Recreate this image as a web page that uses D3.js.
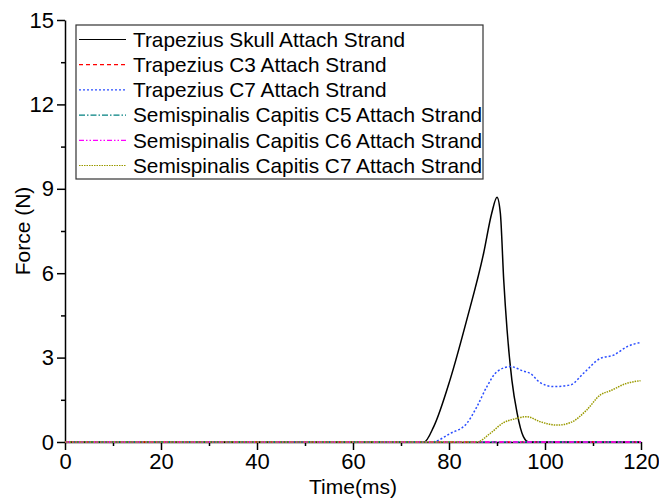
<!DOCTYPE html>
<html>
<head>
<meta charset="utf-8">
<script src="https://cdn.jsdelivr.net/npm/d3@7"></script>
<style>
    body { margin: 0; background: #fff; }
    svg { font-family: "Liberation Sans", Arial, sans-serif; }
    .axis path, .axis line { stroke: #000; stroke-width: 1.5; }
    .series { fill: none; }
</style>
</head>
<body>
<script>
// values, [time ms, force N]
const skullStrand = [[0, 0], [74.8, 0], [76.8, 0.54], [80.2, 2.2], [83.7, 4.34], [87.2, 6.7],
    [88.9, 8.13], [90, 8.7], [90.7, 8.13], [91.4, 5.76], [92.1, 3.98], [93.1, 2.2],
    [94.2, 1.02], [95.5, 0.19], [96.6, 0], [120, 0]];
const c3Strand = [[0, 0], [120, 0]];
const c7Strand = [[0, 0], [76.4, 0], [80.3, 0.31], [83.7, 0.66], [85.8, 1.25], [87.9, 1.97],
    [90, 2.5], [92.8, 2.68], [95.5, 2.52], [96.9, 2.44], [99, 2.11], [101.8, 1.97],
    [105.3, 2.03], [108, 2.44], [111.5, 2.97], [114.3, 3.09], [117.1, 3.39], [119.9, 3.54]];
const semiC5Strand = [[0, 0], [120, 0]];
const semiC6Strand = [[0, 0], [120, 0]];
const semiC7Strand = [[0, 0], [85.8, 0], [88.6, 0.31], [91.4, 0.69], [93.4, 0.81], [96.2, 0.9],
    [99, 0.72], [102.5, 0.6], [105.3, 0.69], [108.7, 1.14], [111.5, 1.67], [113.6, 1.82],
    [117.1, 2.09], [119.9, 2.18]];

const seriesNames = ["Trapezius Skull Attach Strand", "Trapezius C3 Attach Strand",
    "Trapezius C7 Attach Strand", "Semispinalis Capitis C5 Attach Strand",
    "Semispinalis Capitis C6 Attach Strand", "Semispinalis Capitis C7 Attach Strand"];
const seriesValues = [skullStrand, c3Strand, c7Strand, semiC5Strand, semiC6Strand, semiC7Strand];
const xTicks = [0, 20, 40, 60, 80, 100, 120];
const yTicks = [0, 3, 6, 9, 12, 15];

const colors = ["#000000", "#ff0000", "#2a4dff", "#008080", "#ff00ff", "#9a9a00"];
const dashes = [null, "4,3", "2,2", "6,2,1.5,2", "5,2,1.5,2,1.5,2", "1.5,1"];

const width = 659, height = 500;
const margin = { top: 20, right: 18, bottom: 58, left: 65 };

const x = d3.scaleLinear().domain([0, 120]).range([margin.left, width - margin.right]);
const y = d3.scaleLinear().domain([0, 15]).range([height - margin.bottom, margin.top]);

const svg = d3.select("body").append("svg")
    .attr("width", width)
    .attr("height", height);

// minor ticks first, then major axes on top
svg.append("g")
    .attr("class", "axis")
    .attr("transform", "translate(0," + y(0) + ")")
    .call(d3.axisBottom(x).tickValues(d3.range(10, 120, 20)).tickSize(4).tickFormat(""))
    .call(g => g.select(".domain").remove());
svg.append("g")
    .attr("class", "axis")
    .attr("transform", "translate(" + x(0) + ",0)")
    .call(d3.axisLeft(y).tickValues(d3.range(1.5, 15, 3)).tickSize(4).tickFormat(""))
    .call(g => g.select(".domain").remove());

const xAxis = svg.append("g")
    .attr("class", "axis")
    .attr("transform", "translate(0," + y(0) + ")")
    .call(d3.axisBottom(x).tickValues(xTicks).tickSize(8).tickSizeOuter(0).tickPadding(3));
xAxis.selectAll("text").attr("font-size", 22).attr("fill", "#000").attr("font-family", null);

const yAxis = svg.append("g")
    .attr("class", "axis")
    .attr("transform", "translate(" + x(0) + ",0)")
    .call(d3.axisLeft(y).tickValues(yTicks).tickSize(8).tickSizeOuter(0).tickPadding(3));
yAxis.selectAll("text").attr("font-size", 22).attr("fill", "#000").attr("font-family", null);

svg.append("text")
    .attr("x", (x(0) + x(120)) / 2)
    .attr("y", 494)
    .attr("text-anchor", "middle")
    .attr("font-size", 21)
    .text("Time(ms)");

svg.append("text")
    .attr("transform", "translate(30," + y(7.5) + ") rotate(-90)")
    .attr("text-anchor", "middle")
    .attr("font-size", 21)
    .text("Force (N)");

const line = d3.line()
    .x(d => x(d[0]))
    .y(d => y(d[1]))
    .curve(d3.curveMonotoneX);

svg.append("g")
    .selectAll("path")
    .data(seriesValues)
    .enter().append("path")
    .attr("class", "series")
    .attr("d", line)
    .attr("stroke", (d, i) => colors[i])
    .attr("stroke-width", 1.5)
    .attr("stroke-dasharray", (d, i) => dashes[i]);

// legend
const legend = svg.append("g").attr("transform", "translate(76,25)");
legend.append("rect")
    .attr("width", 407)
    .attr("height", 154)
    .attr("fill", "#fff")
    .attr("stroke", "#333")
    .attr("stroke-width", 1.2);

const item = legend.selectAll("g.item")
    .data(seriesNames)
    .enter().append("g")
    .attr("class", "item")
    .attr("transform", (d, i) => "translate(0," + (14.5 + i * 25.2) + ")");

item.append("line")
    .attr("x1", 3)
    .attr("x2", 50)
    .attr("stroke", (d, i) => colors[i])
    .attr("stroke-width", 1.2)
    .attr("stroke-dasharray", (d, i) => dashes[i]);

item.append("text")
    .attr("x", 57)
    .attr("dy", "0.35em")
    .attr("font-size", 20.8)
    .text(d => d);
</script>
</body>
</html>
